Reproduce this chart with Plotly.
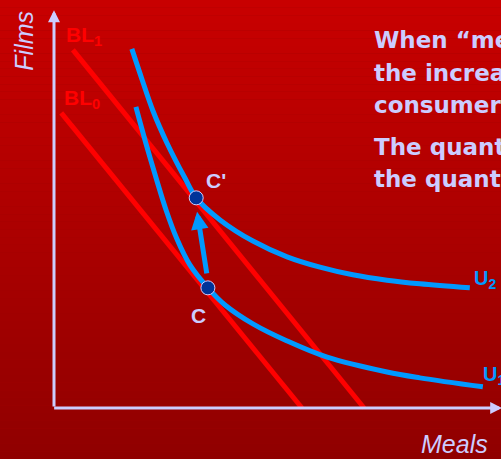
import plotly.graph_objects as go

# Budget lines (meals, films)
bl0_meals = [1.6, 55.1]
bl0_films = [65.6, 0.0]
bl1_meals = [4.2, 68.9]
bl1_films = [79.6, 0.0]

# Indifference curves
u1_meals = [18.2, 20.4, 22.9, 24.9, 27.3, 30.2, 34.2, 38.0, 44.2, 51.8, 60.7, 74.0, 81.3, 95.3]
u1_films = [66.9, 58.9, 50.4, 44.0, 37.6, 31.8, 26.7, 22.9, 18.7, 14.9, 11.3, 8.0, 6.7, 4.7]
u2_meals = [17.3, 19.6, 22.0, 25.1, 29.1, 31.6, 36.9, 44.2, 51.8, 59.1, 66.4, 74.0, 81.3, 92.4]
u2_films = [79.8, 72.9, 66.0, 58.9, 51.1, 46.7, 41.8, 37.1, 33.6, 31.3, 29.6, 28.4, 27.6, 26.7]

# Consumption points C and C'
point_labels = ["C", "C'"]
point_meals = [34.2, 31.6]
point_films = [26.7, 46.7]

text_lines = [
    "When \u201cmeals\u201d are",
    "the increase in",
    "consumer buys",
    "The quantity of",
    "the quantity of",
]

RED = "#ff0000"
BLUE = "#0099ff"
LAV = "#ccccff"
W, H = 501, 459

fig = go.Figure()

# vertical background gradient
n_bands = 60
shapes = []
for i in range(n_bands):
    t = i / (n_bands - 1)
    r = round(200 - (200 - 144) * t)
    shapes.append(dict(type="rect", xref="paper", yref="paper",
                       x0=0, x1=1, y0=1 - (i + 1) / n_bands, y1=1 - i / n_bands,
                       fillcolor=f"rgb({r},0,0)", line_width=0, layer="below"))

for xs, ys in [(bl0_meals, bl0_films), (bl1_meals, bl1_films)]:
    fig.add_trace(go.Scatter(x=xs, y=ys, mode="lines",
                             line=dict(color=RED, width=5), hoverinfo="skip"))

for xs, ys in [(u1_meals, u1_films), (u2_meals, u2_films)]:
    fig.add_trace(go.Scatter(x=xs, y=ys, mode="lines",
                             line=dict(color=BLUE, width=5, shape="spline", smoothing=1.0),
                             hoverinfo="skip"))

fig.add_trace(go.Scatter(x=point_meals, y=point_films, mode="markers",
                         marker=dict(size=14, color="#003399",
                                     line=dict(color=LAV, width=1)),
                         hoverinfo="skip"))

ann = []
# axes with arrowheads
ann.append(dict(x=0, y=88.4, ax=0, ay=0, xref="x", yref="y", axref="x", ayref="y",
                text="", showarrow=True, arrowhead=2, arrowsize=0.8, arrowwidth=3,
                arrowcolor=LAV, standoff=0))
ann.append(dict(x=99.6, y=0, ax=-0.3, ay=0, xref="x", yref="y", axref="x", ayref="y",
                text="", showarrow=True, arrowhead=2, arrowsize=0.8, arrowwidth=3,
                arrowcolor=LAV, standoff=0))
# income-effect arrow from C toward C'
ann.append(dict(x=31.8, y=43.6, ax=34.0, ay=29.6, xref="x", yref="y", axref="x", ayref="y",
                text="", showarrow=True, arrowhead=2, arrowsize=0.7, arrowwidth=5,
                arrowcolor=BLUE, standoff=0))

bold_font = dict(family="Liberation Sans, Arial", size=21, color=RED)
ann.append(dict(x=2.2, y=82.6, xref="x", yref="y", text="<b>BL<sub>1</sub></b>",
                showarrow=False, xanchor="left", yanchor="middle", font=bold_font))
ann.append(dict(x=1.8, y=68.6, xref="x", yref="y", text="<b>BL<sub>0</sub></b>",
                showarrow=False, xanchor="left", yanchor="middle", font=bold_font))

ufont = dict(family="Liberation Sans, Arial", size=20, color=BLUE)
ann.append(dict(x=92.9, y=28.5, xref="x", yref="y", text="<b>U<sub>2</sub></b>",
                showarrow=False, xanchor="left", yanchor="middle", font=ufont))
ann.append(dict(x=94.9, y=7.2, xref="x", yref="y", text="<b>U<sub>1</sub></b>",
                showarrow=False, xanchor="left", yanchor="middle", font=ufont))

pfont = dict(family="Liberation Sans, Arial", size=21, color=LAV)
ann.append(dict(x=32.2, y=20.5, xref="x", yref="y", text="<b>" + point_labels[0] + "</b>",
                showarrow=False, xanchor="center", yanchor="middle", font=pfont))
ann.append(dict(x=36.0, y=50.5, xref="x", yref="y", text="<b>" + point_labels[1] + "</b>",
                showarrow=False, xanchor="center", yanchor="middle", font=pfont))

afont = dict(family="Liberation Sans, Arial", size=25, color=LAV)
ann.append(dict(x=-6.7, y=81.6, xref="x", yref="y", text="<i>Films</i>", textangle=-90,
                showarrow=False, xanchor="center", yanchor="middle", font=afont))
ann.append(dict(x=89.1, y=-8.0, xref="x", yref="y", text="<i>Meals</i>",
                showarrow=False, xanchor="center", yanchor="middle", font=afont))

tfont = dict(family="DejaVu Sans", size=23, color=LAV)
line_centers = [40.1, 73.0, 104.6, 146.6, 178.6]
for txt, yc in zip(text_lines, line_centers):
    ann.append(dict(x=372 / W, y=1 - yc / H, xref="paper", yref="paper",
                    text="<b>" + txt + "</b>", showarrow=False,
                    xanchor="left", yanchor="middle", font=tfont))

fig.update_layout(
    width=W, height=H,
    margin=dict(l=0, r=0, t=0, b=0),
    paper_bgcolor="#a00000", plot_bgcolor="rgba(0,0,0,0)",
    showlegend=False,
    shapes=shapes,
    annotations=ann,
    xaxis=dict(range=[-12, 99.333], visible=False, fixedrange=True),
    yaxis=dict(range=[-11.333, 90.667], visible=False, fixedrange=True),
)

fig.write_html("out.html", config={"displayModeBar": False})
